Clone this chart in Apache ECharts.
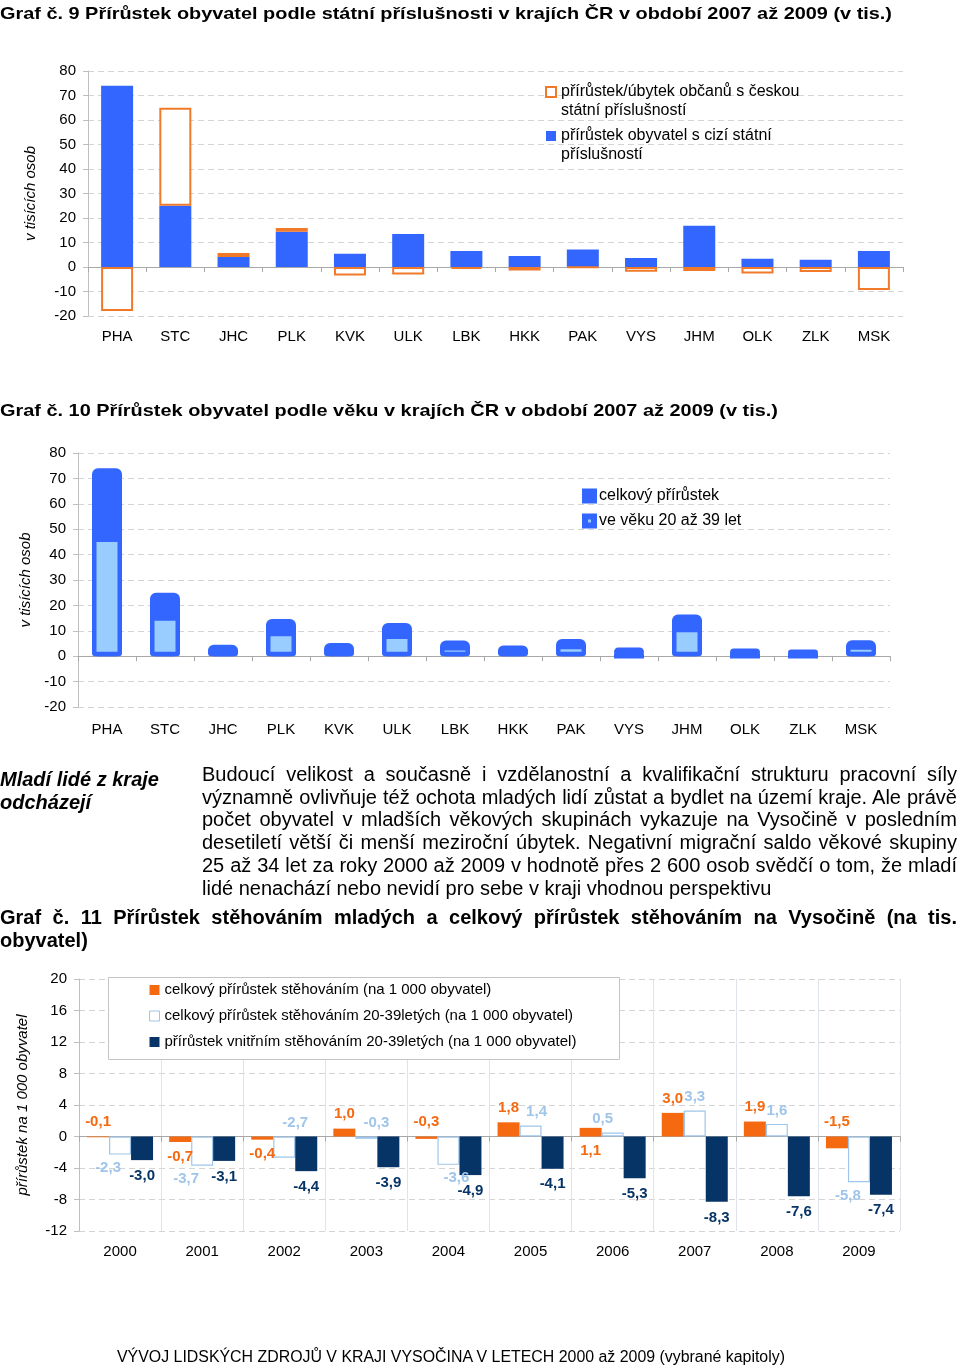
<!DOCTYPE html>
<html><head><meta charset="utf-8">
<script src="https://cdn.jsdelivr.net/npm/echarts@6/dist/echarts.min.js"></script>
<style>
html,body{margin:0;padding:0;background:#fff;}
#page{position:relative;width:960px;height:1369px;overflow:hidden;font-family:'Liberation Sans',Arial,sans-serif;color:#000;background:#fff;}
#chart{position:absolute;left:0;top:0;width:960px;height:1369px;}
.t{position:absolute;white-space:nowrap;transform-origin:0 50%;}
.b{font-weight:bold;}
.n{font-family:'Liberation Sans Narrow','Arial Narrow','Liberation Sans',Arial,sans-serif;}
</style></head>
<body>
<div id="page">
  <div id="chart"></div>
  <div class="t b" id="t1" style="left:0;top:4px;font-size:17px;line-height:20px" data-fit="892">Graf č. 9 Přírůstek obyvatel podle státní příslušnosti v krajích ČR v období 2007 až 2009 (v tis.)</div>
  <div class="t b n" id="t2" style="left:0;top:401px;font-size:17px;line-height:20px" data-fit="778">Graf č. 10 Přírůstek obyvatel podle věku v krajích ČR v období 2007 až 2009 (v tis.)</div>
  <div class="t b" style="left:0;top:768px;font-size:20px;line-height:23px;font-style:italic">Mladí lidé z kraje<br>odcházejí</div>
  <div class="t" style="left:202px;top:763px;font-size:20px;line-height:23px" data-just="755">Budoucí velikost a současně i vzdělanostní a kvalifikační strukturu pracovní síly</div>
  <div class="t" style="left:202px;top:786px;font-size:20px;line-height:23px" data-just="755">významně ovlivňuje též ochota mladých lidí zůstat a bydlet na území kraje. Ale právě</div>
  <div class="t" style="left:202px;top:808px;font-size:20px;line-height:23px" data-just="755">počet obyvatel v mladších věkových skupinách vykazuje na Vysočině v posledním</div>
  <div class="t" style="left:202px;top:831px;font-size:20px;line-height:23px" data-just="755">desetiletí větší či menší meziroční úbytek. Negativní migrační saldo věkové skupiny</div>
  <div class="t" style="left:202px;top:854px;font-size:20px;line-height:23px" data-just="755">25 až 34 let za roky 2000 až 2009 v hodnotě přes 2 600 osob svědčí o tom, že mladí</div>
  <div class="t" style="left:202px;top:877px;font-size:20px;line-height:23px">lidé nenachází nebo nevidí pro sebe v kraji vhodnou perspektivu</div>
  <div class="t b" style="left:0;top:906px;font-size:20px;line-height:23px" data-just="957">Graf č. 11 Přírůstek stěhováním mladých a celkový přírůstek stěhováním na Vysočině (na tis.</div>
  <div class="t b" style="left:0;top:929px;font-size:20px;line-height:23px">obyvatel)</div>
  <div class="t n" style="left:117px;top:1347px;font-size:16px;line-height:20px" data-fit="668">VÝVOJ LIDSKÝCH ZDROJŮ V KRAJI VYSOČINA V LETECH 2000 až 2009 (vybrané kapitoly)</div>
</div>
<script>
// ---------- data ----------
const regions = ['PHA','STC','JHC','PLK','KVK','ULK','LBK','HKK','PAK','VYS','JHM','OLK','ZLK','MSK'];
const foreignGrowth = [74, 25, 4.1, 14.4, 5.4, 13.5, 6.5, 4.5, 7.1, 3.7, 16.8, 3.4, 3.0, 6.5];
const czechChange = [-18, 40, 1.6, 1.5, -3.5, -3.1, -0.8, -1.4, -0.3, -1.9, -1.6, -2.7, -2.0, -9.4];
const totalGrowth = [74, 25, 4.5, 14.6, 5.2, 13.1, 6.2, 4.2, 6.8, 3.4, 16.4, 3.0, 2.6, 6.3];
const growthAge20to39 = [46.7, 15.7, 3.0, 9.6, 3.0, 8.5, 4.0, 2.9, 4.5, 0, 11.2, 0, 0, 4.3];
const regionAxisMin = -20, regionAxisMax = 80, regionAxisStep = 10;

const years = ['2000','2001','2002','2003','2004','2005','2006','2007','2008','2009'];
const migrationTotal = [-0.1, -0.7, -0.4, 1.0, -0.3, 1.8, 1.1, 3.0, 1.9, -1.5];
const migration20to39 = [-2.3, -3.7, -2.7, -0.3, -3.6, 1.4, 0.5, 3.3, 1.6, -5.8];
const internalMigration20to39 = [-3.0, -3.1, -4.4, -3.9, -4.9, -4.1, -5.3, -8.3, -7.6, -7.4];
const migrationAxisMin = -12, migrationAxisMax = 20, migrationAxisStep = 4;

// ---------- text fitting ----------
function layoutText(){
  document.querySelectorAll('[data-fit]').forEach(el=>{
    el.style.transform='';
    const w = el.getBoundingClientRect().width;
    el.style.transform = 'scaleX(' + (parseFloat(el.dataset.fit)/w) + ')';
  });
  document.querySelectorAll('[data-just]').forEach(el=>{
    el.style.wordSpacing='0px';
    const w = el.getBoundingClientRect().width;
    const n = (el.textContent.match(/ /g)||[]).length;
    if(n) el.style.wordSpacing = ((parseFloat(el.dataset.just)-w)/n)+'px';
  });
}
layoutText();
if (document.fonts && document.fonts.ready) document.fonts.ready.then(layoutText);

// ---------- chart ----------
const FONT = "'Liberation Sans', Arial, sans-serif";
const BLUE = '#3366ff', LIGHT = '#99ccff', ORANGE1 = '#f07a2a';
const ORANGE = '#f56a10', LBLUE = '#9fc5ea', NAVY = '#073466';
const fmt = p => p.value.toFixed(1).replace('.', ',');
const splitDash = {show:true, lineStyle:{color:'#d4d4d4', type:[6,4], width:1}};

function catAxes(grid, data, margin, split){
  return [
    {type:'category', gridIndex:grid, data:data, position:'bottom',
     axisLine:{show:false, onZero:false}, axisTick:{show:false},
     axisLabel:{fontSize:15, color:'#000', fontFamily:FONT, margin:margin},
     splitLine: split ? {show:true, lineStyle:{color:'#dfe3ea', width:1}} : {show:false}},
    {type:'category', gridIndex:grid, data:data, position:'top',
     axisLine:{show:true, onZero:true, lineStyle:{color:'#a8a8a8', width:1}},
     axisTick:{show:true, inside:true, length:5, lineStyle:{color:'#a8a8a8'}},
     axisLabel:{show:false}, splitLine:{show:false}}
  ];
}
function valAxis(grid, min, max, step, name, gap){
  return {type:'value', gridIndex:grid, min:min, max:max, interval:step,
    name:name, nameLocation:'middle', nameGap:gap,
    nameTextStyle:{fontSize:15, fontStyle:'italic', color:'#000', fontFamily:FONT},
    axisLine:{show:true, lineStyle:{color:'#bfbfbf'}},
    axisTick:{show:true, length:5, lineStyle:{color:'#bfbfbf'}},
    axisLabel:{fontSize:15, color:'#000', fontFamily:FONT, margin:12},
    splitLine:splitDash};
}

const orangeLabelPos = ['top','bottom','bottom','top','top','top','bottom','top','top','top'];
const lightLabelPos = ['bottom','bottom','top','top','bottom','top','top','top','top','bottom'];
const lightLabelDx = [-12,-16,11,10,8,6,-10,0,0,-11];

const option = {
  animation:false,
  backgroundColor:'#fff',
  textStyle:{fontFamily:FONT},
  grid:[
    {left:88, top:71, width:815, height:245},
    {left:78, top:453, width:812, height:254},
    {left:79, top:979, width:821, height:252}
  ],
  xAxis:[].concat(catAxes(0, regions, 13, false), catAxes(1, regions, 15, false), catAxes(2, years, 13, true)),
  yAxis:[
    valAxis(0, regionAxisMin, regionAxisMax, regionAxisStep, 'v tisících osob', 50),
    valAxis(1, regionAxisMin, regionAxisMax, regionAxisStep, 'v tisících osob', 44),
    valAxis(2, migrationAxisMin, migrationAxisMax, migrationAxisStep, 'přírůstek na 1 000 obyvatel', 49)
  ],
  legend:[
    {orient:'vertical', left:582, top:488, padding:0, itemWidth:9, itemHeight:9, itemGap:9,
     textStyle:{fontSize:16, color:'#000', fontFamily:FONT},
     data:[
      {name:'celkový přírůstek', icon:'rect', itemStyle:{color:BLUE, borderColor:BLUE, borderWidth:6}},
      {name:'ve věku 20 až 39 let', icon:'rect', itemStyle:{color:LIGHT, borderColor:BLUE, borderWidth:6}}
     ]},
    {orient:'vertical', left:149, top:982.5, padding:0, itemWidth:10, itemHeight:10, itemGap:11,
     textStyle:{fontSize:15, color:'#000', fontFamily:FONT},
     data:[
      {name:'celkový přírůstek stěhováním (na 1 000 obyvatel)', icon:'rect', itemStyle:{color:ORANGE}},
      {name:'celkový přírůstek stěhováním 20-39letých (na 1 000 obyvatel)', icon:'rect', itemStyle:{color:'#fff', borderColor:LBLUE, borderWidth:1}},
      {name:'přírůstek vnitřním stěhováním 20-39letých (na 1 000 obyvatel)', icon:'rect', itemStyle:{color:NAVY}}
     ]}
  ],
  graphic:[
    {type:'rect', z:3, shape:{x:546, y:87, width:10, height:10}, style:{fill:'#fff', stroke:ORANGE1, lineWidth:2}},
    {type:'text', z:3, x:561, y:82.5, style:{text:'přírůstek/úbytek občanů s českou\nstátní příslušností', font:'16px '+FONT, fill:'#000', lineHeight:19}},
    {type:'rect', z:3, shape:{x:546, y:131, width:10, height:10}, style:{fill:BLUE}},
    {type:'text', z:3, x:561, y:126.5, style:{text:'přírůstek obyvatel s cizí státní\npříslušností', font:'16px '+FONT, fill:'#000', lineHeight:19}},
    {type:'rect', z:3, shape:{x:108.5, y:977.5, width:511, height:82}, style:{fill:'#fff', stroke:'#c4c4c4', lineWidth:1}}
  ],
  series:[
    {name:'přírůstek obyvatel s cizí státní příslušností', type:'bar', xAxisIndex:0, yAxisIndex:0, stack:'c1',
     barWidth:32, data:foreignGrowth, itemStyle:{color:BLUE}},
    {name:'přírůstek/úbytek občanů s českou státní příslušností', type:'bar', xAxisIndex:0, yAxisIndex:0, stack:'c1',
     barWidth:32, data:czechChange, itemStyle:{color:'#fff', borderColor:ORANGE1, borderWidth:2}},

    {name:'celkový přírůstek', type:'bar', xAxisIndex:2, yAxisIndex:1, barWidth:30, data:totalGrowth,
     itemStyle:{color:BLUE, borderColor:BLUE, borderWidth:6, borderRadius:3}},
    {name:'ve věku 20 až 39 let', type:'bar', xAxisIndex:2, yAxisIndex:1, barWidth:30, barGap:'-100%', data:growthAge20to39,
     itemStyle:{color:LIGHT, borderColor:BLUE, borderWidth:4.5, borderRadius:1}},

    {name:'celkový přírůstek stěhováním (na 1 000 obyvatel)', type:'bar', xAxisIndex:4, yAxisIndex:2,
     barWidth:22, barGap:'0%',
     data: migrationTotal.map((v,i)=>({value:v, label:{position:orangeLabelPos[i]}})),
     itemStyle:{color:ORANGE},
     label:{show:true, formatter:fmt, fontSize:15, fontWeight:'bold', color:ORANGE, distance:7, fontFamily:FONT}},
    {name:'celkový přírůstek stěhováním 20-39letých (na 1 000 obyvatel)', type:'bar', xAxisIndex:4, yAxisIndex:2,
     barWidth:22, barGap:'0%',
     data: migration20to39.map((v,i)=>({value:v, label:{position:lightLabelPos[i], offset:[lightLabelDx[i],0]}})),
     itemStyle:{color:'#fff', borderColor:LBLUE, borderWidth:1.2},
     label:{show:true, formatter:fmt, fontSize:15, fontWeight:'bold', color:LBLUE, distance:6, fontFamily:FONT}},
    {name:'přírůstek vnitřním stěhováním 20-39letých (na 1 000 obyvatel)', type:'bar', xAxisIndex:4, yAxisIndex:2,
     barWidth:22, barGap:'0%', data:internalMigration20to39,
     itemStyle:{color:NAVY},
     label:{show:true, position:'bottom', formatter:fmt, fontSize:15, fontWeight:'bold', color:NAVY, distance:8, fontFamily:FONT}}
  ]
};
const chart = echarts.init(document.getElementById('chart'), null, {renderer:'canvas'});
chart.setOption(option);
</script>
</body></html>
